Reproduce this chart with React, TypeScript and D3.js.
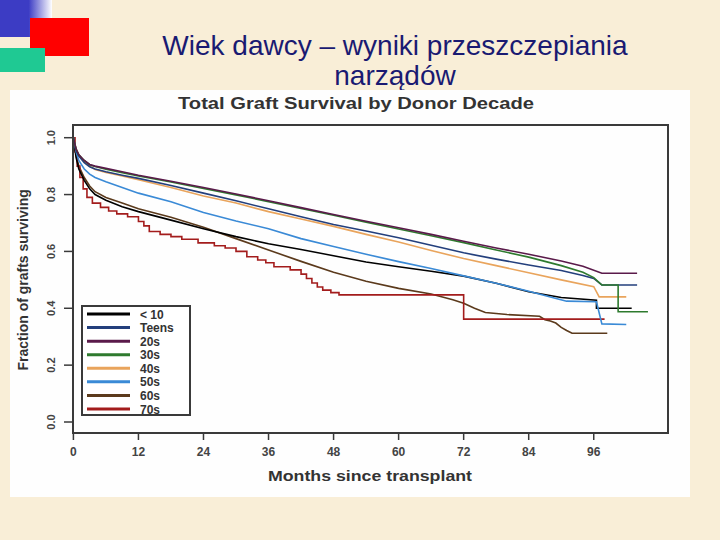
import React from "react";
import * as d3 from "d3";

// ---- data (months since transplant, fraction surviving) ----
const under10: [number, number][] = [
  [0, 1], [0.5, 0.93], [1, 0.89], [2, 0.85], [3, 0.82], [4, 0.8], [6, 0.78], [9, 0.757], [12, 0.74],
  [18, 0.71], [24, 0.68], [30, 0.652], [36, 0.627], [42, 0.607], [48, 0.585], [54, 0.563], [60, 0.546],
  [66, 0.53], [72, 0.513], [78, 0.488], [84, 0.458], [90, 0.438], [96.5, 0.428], [96.5, 0.4], [103, 0.4],
];
const teens: [number, number][] = [
  [0, 1], [0.5, 0.955], [1, 0.935], [2, 0.912], [3, 0.898], [4, 0.89], [6, 0.88], [9, 0.868], [12, 0.857],
  [18, 0.832], [24, 0.805], [30, 0.778], [36, 0.75], [42, 0.722], [48, 0.695], [54, 0.672], [60, 0.648],
  [66, 0.622], [72, 0.595], [78, 0.573], [84, 0.552], [90, 0.533], [94, 0.515], [96, 0.505], [97.5, 0.482], [104, 0.482],
];
const twenties: [number, number][] = [
  [0, 1], [0.5, 0.96], [1, 0.94], [2, 0.92], [3, 0.906], [4, 0.9], [6, 0.892], [9, 0.88], [12, 0.868],
  [18, 0.847], [24, 0.825], [30, 0.802], [36, 0.778], [42, 0.754], [48, 0.73], [54, 0.706], [60, 0.683],
  [66, 0.66], [72, 0.636], [78, 0.612], [84, 0.59], [90, 0.566], [94, 0.548], [97.5, 0.523], [104, 0.523],
];
const thirties: [number, number][] = [
  [0, 1], [0.5, 0.96], [1, 0.94], [2, 0.92], [3, 0.905], [4, 0.899], [6, 0.889], [9, 0.877], [12, 0.865],
  [18, 0.844], [24, 0.821], [30, 0.799], [36, 0.775], [42, 0.751], [48, 0.727], [54, 0.703], [60, 0.679],
  [66, 0.655], [72, 0.631], [78, 0.605], [84, 0.58], [90, 0.55], [94, 0.527], [96, 0.508], [97.5, 0.482],
  [100.5, 0.482], [100.5, 0.388], [106, 0.388],
];
const forties: [number, number][] = [
  [0, 1], [0.5, 0.96], [1, 0.94], [2, 0.915], [3, 0.9], [4, 0.888], [6, 0.878], [9, 0.865], [12, 0.852],
  [18, 0.825], [24, 0.795], [30, 0.77], [36, 0.74], [42, 0.714], [48, 0.688], [54, 0.66], [60, 0.633],
  [66, 0.603], [72, 0.575], [78, 0.55], [84, 0.525], [90, 0.5], [96, 0.476], [97, 0.44], [102, 0.44],
];
const fifties: [number, number][] = [
  [0, 1], [0.5, 0.95], [1, 0.92], [2, 0.89], [3, 0.872], [4, 0.86], [6, 0.845], [9, 0.825], [12, 0.805],
  [18, 0.775], [24, 0.737], [30, 0.707], [36, 0.68], [42, 0.645], [48, 0.617], [54, 0.59], [60, 0.564],
  [66, 0.54], [72, 0.514], [78, 0.488], [84, 0.46], [88, 0.44], [91, 0.425], [96.5, 0.423], [97.5, 0.345], [102, 0.343],
];
const sixties: [number, number][] = [
  [0, 1], [0.5, 0.94], [1, 0.9], [2, 0.86], [3, 0.83], [4, 0.81], [6, 0.79], [9, 0.77], [12, 0.75],
  [18, 0.72], [24, 0.685], [30, 0.645], [36, 0.605], [42, 0.565], [48, 0.527], [54, 0.495], [60, 0.47],
  [66, 0.45], [70, 0.43], [72, 0.418], [74, 0.4], [76, 0.385], [80, 0.378], [86, 0.372], [87, 0.36],
  [88, 0.355], [89, 0.348], [90, 0.333], [91, 0.322], [92, 0.312], [98.5, 0.312],
];
const seventies: [number, number][] = [
  [0, 1], [0.3, 0.95], [0.7, 0.9], [1.2, 0.86], [1.8, 0.82], [2.5, 0.79], [3.5, 0.77], [5, 0.755],
  [6.5, 0.742], [8, 0.732], [10, 0.722], [12, 0.705], [13, 0.69], [14, 0.67], [16, 0.66], [18, 0.652],
  [20, 0.643], [23, 0.63], [26, 0.62], [28, 0.612], [30, 0.6], [32, 0.581], [34, 0.57], [35.5, 0.56],
  [37, 0.546], [40, 0.535], [42, 0.52], [43, 0.505], [44, 0.489], [45, 0.475], [46, 0.464], [47.5, 0.455],
  [49, 0.447], [72, 0.362], [98, 0.362],
];

const seriesNames = ["< 10", "Teens", "20s", "30s", "40s", "50s", "60s", "70s"];
const seriesData = [under10, teens, twenties, thirties, forties, fifties, sixties, seventies];
const seriesStep = [false, false, false, false, false, false, false, true];
const seriesColors = ["#000000", "#233f7c", "#5a1a4a", "#2e7a2e", "#e9a45c", "#3a8ad6", "#5b3a1c", "#a31c1c"];
const drawOrder = [6, 7, 0, 5, 4, 1, 3, 2];

const xTicks = [0, 12, 24, 36, 48, 60, 72, 84, 96];
const yTicks = [0, 0.2, 0.4, 0.6, 0.8, 1.0];

const titleLines = ["Wiek dawcy – wyniki przeszczepiania", "narządów"];
const chartTitle = "Total Graft Survival by Donor Decade";
const xTitle = "Months since transplant";
const yTitle = "Fraction of grafts surviving";

export default function App() {
  const x = d3.scaleLinear().domain([0, 109.7]).range([73.4, 668]);
  const y = d3.scaleLinear().domain([0, 1]).range([422, 137.7]);
  const box = { l: 73, t: 125, r: 668, b: 433 };
  const font = "'Liberation Sans', Arial, sans-serif";

  const lineFor = (i: number) =>
    d3
      .line<[number, number]>()
      .x((d) => x(d[0]))
      .y((d) => y(d[1]))
      .curve(seriesStep[i] ? d3.curveStepAfter : d3.curveLinear)(seriesData[i]) || "";

  const legend = { l: 82, t: 306, r: 190, b: 415 };
  const legendRow = d3.scaleLinear().domain([0, 7]).range([314, 409]);

  return (
    <svg
      width={720}
      height={540}
      style={{ position: "absolute", left: 0, top: 0 }}
      fontFamily={font}
    >
      <rect x={0} y={0} width={720} height={540} fill="#f9eed7" />
      <defs>
        <linearGradient id="blueFade" x1="0" x2="1" y1="0" y2="0">
          <stop offset="0" stopColor="#3c3cc4" />
          <stop offset="0.55" stopColor="#3c3cc4" />
          <stop offset="1" stopColor="#ffffff" />
        </linearGradient>
      </defs>
      <rect x={0} y={0} width={52} height={37} fill="url(#blueFade)" />
      <rect x={30} y={18} width={59} height={38} fill="#ff0000" />
      <rect x={0} y={48} width={45} height={24} fill="#1fc993" />

      {titleLines.map((t, i) => (
        <text key={i} x={395} y={55 + i * 30} textAnchor="middle" fontSize={28} fill="#1a1a72">
          {t}
        </text>
      ))}

      <rect x={10} y={90} width={680} height={407} fill="#fefefe" />

      <text x={356} y={109} textAnchor="middle" fontSize={17} fontWeight="bold" fill="#333"
        textLength={356} lengthAdjust="spacingAndGlyphs">
        {chartTitle}
      </text>

      <g>
        {drawOrder.map((i) => (
          <path key={i} d={lineFor(i)} fill="none" stroke={seriesColors[i]} strokeWidth={1.6} />
        ))}
      </g>

      <rect x={box.l} y={box.t} width={box.r - box.l} height={box.b - box.t} fill="none" stroke="#3a3a3a" strokeWidth={2} />

      {yTicks.map((v) => (
        <g key={v}>
          <line x1={64} x2={box.l} y1={y(v)} y2={y(v)} stroke="#3a3a3a" strokeWidth={1.5} />
          <text
            transform={`translate(55,${y(v)}) rotate(-90)`}
            textAnchor="middle"
            fontSize={11}
            fontWeight="bold"
            fill="#444"
          >
            {v.toFixed(1)}
          </text>
        </g>
      ))}
      {xTicks.map((m) => (
        <g key={m}>
          <line x1={x(m)} x2={x(m)} y1={box.b} y2={box.b + 7} stroke="#3a3a3a" strokeWidth={1.5} />
          <text x={x(m)} y={456} textAnchor="middle" fontSize={12} fontWeight="bold" fill="#444">
            {m}
          </text>
        </g>
      ))}
      <text x={370} y={481} textAnchor="middle" fontSize={15} fontWeight="bold" fill="#333"
        textLength={204} lengthAdjust="spacingAndGlyphs">
        {xTitle}
      </text>
      <text
        transform={`translate(28,${(y(0) + y(1)) / 2}) rotate(-90)`}
        textAnchor="middle"
        fontSize={14}
        fontWeight="bold"
        fill="#333"
      >
        {yTitle}
      </text>

      <rect x={legend.l} y={legend.t} width={legend.r - legend.l} height={legend.b - legend.t} fill="#fff" stroke="#3a3a3a" strokeWidth={2} />
      {seriesNames.map((n, i) => (
        <g key={n}>
          <line x1={87} x2={130} y1={legendRow(i)} y2={legendRow(i)} stroke={seriesColors[i]} strokeWidth={3} />
          <text x={140} y={legendRow(i) + 4.5} fontSize={12} fontWeight="bold" fill="#333">
            {n}
          </text>
        </g>
      ))}
    </svg>
  );
}
